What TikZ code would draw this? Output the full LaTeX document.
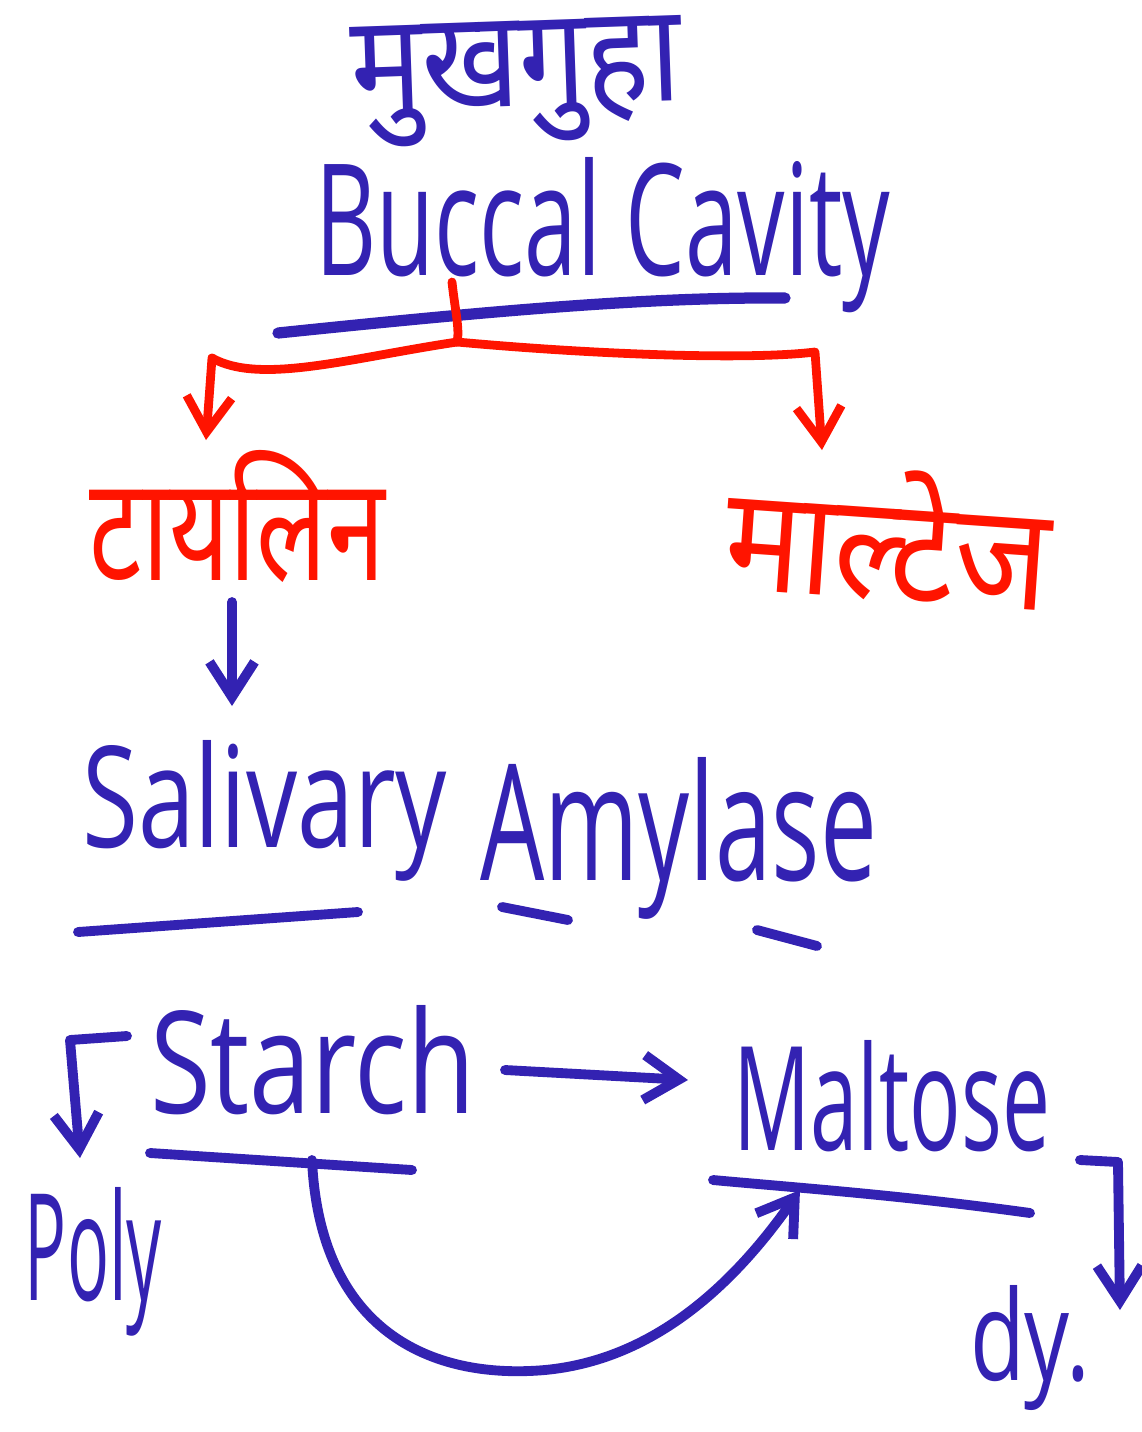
\documentclass[tikz,border=0pt]{standalone}
\usepackage{fontspec}
\usepackage{graphicx}
\setmainfont{Open Sans}
\newfontfamily\deva[Script=Devanagari]{Noto Sans}
\usetikzlibrary{arrows.meta}
\definecolor{penblue}{RGB}{51,34,178}
\definecolor{penred}{RGB}{255,20,0}

\begin{document}
\begin{tikzpicture}[x=0.01cm,y=-0.01cm]
	\tikzset{
		every node/.style={inner sep=0pt,outer sep=0pt,anchor=base west},
		% ink
		bl/.style={draw=penblue,line width=2.8pt,line cap=round,line join=round},
		rd/.style={draw=penred,line width=2.5pt,line cap=round,line join=round},
		hd/.style={-{Straight Barb[length=3.5mm,width=4.5mm]}},
		blt/.style={text=penblue},
		rdt/.style={text=penred},
	}
	\useasboundingbox (0,0) rectangle (1141,1432);
	%
	\node[blt,rotate=2] (mukh) at (352,112) {\resizebox{3.3cm}{0.85cm}{\deva मुखगुहा}};
	\node[blt] (buccal) at (315,275) {\resizebox{5.75cm}{1.18cm}{Buccal Cavity}};
	\node[rdt] (ptyalin) at (90,580) {\resizebox{2.95cm}{1.3cm}{\deva टायलिन}};
	\node[rdt,rotate=-4] (maltase) at (722,588) {\resizebox{3.25cm}{1.3cm}{\deva माल्टेज}};
	\node[blt] (salivary) at (82,847) {\resizebox{3.65cm}{1.07cm}{Salivary}};
	\node[blt] (amylase) at (480,880) {\resizebox{3.97cm}{1.23cm}{Amylase}};
	\node[blt] (starch) at (150,1113) {\resizebox{3.25cm}{1.08cm}{Starch}};
	\node[blt] (maltose) at (733,1150) {\resizebox{3.17cm}{1.1cm}{Maltose}};
	\node[blt] (poly) at (25,1300) {\resizebox{1.37cm}{1.13cm}{Poly}};
	\node[blt] (di) at (970,1380) {\resizebox{1.2cm}{0.95cm}{dy.}};
	%
	\coordinate (fork) at (457,342);
	\coordinate (ptyin) at (206,440);
	\coordinate (malin) at (822,450);
	\coordinate (ptyout) at (232,602);
	\coordinate (salin) at (232,706);
	\coordinate (stout) at (505,1070);
	\coordinate (mlin) at (688,1080);
	\coordinate (stul) at (312,1160);
	\coordinate (mlul) at (800,1190);
	% underlines
	\draw[bl,line width=3.2pt] (278,333) .. controls (500,310) and (650,297) .. (785,298);
	\draw[bl] (78,932) -- (358,912);
	\draw[bl] (502,907) -- (568,920) (757,930) -- (817,946);
	\draw[bl] (150,1153) -- (412,1170);
	\draw[bl] (713,1180) .. controls (800,1188) and (900,1195) .. (1030,1213);
	% branches
	\draw[rd] (452,282) .. controls (455,310) and (460,330) .. (fork);
	\draw[rd,hd] (fork) .. controls (350,358) and (260,385) .. (212,358) -- (ptyin);
	\draw[rd,hd] (fork) .. controls (600,355) and (750,360) .. (815,352) -- (malin);
	%
	\draw[bl,hd] (ptyout) -- (salin);
	\draw[bl,hd] (stout) -- (mlin);
	\draw[bl,hd] (127,1036) -- (70,1040) -- (80,1158);
	\draw[bl,hd] (1080,1160) -- (1118,1162) -- (1120,1310);
	\draw[bl,hd] (stul) .. controls (320,1330) and (430,1380) .. (545,1370) .. controls (650,1360) and (730,1290) .. (mlul);
\end{tikzpicture}
\end{document}
